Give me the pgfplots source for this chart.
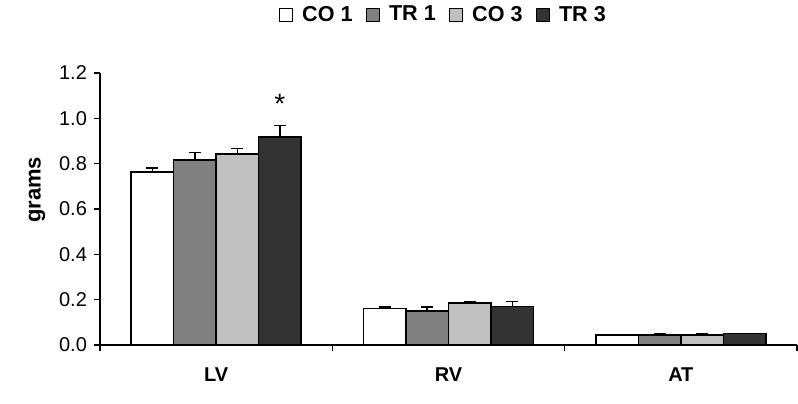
\documentclass[border=0pt]{standalone}
\usepackage{fontspec}
\setmainfont{Liberation Sans}
\usepackage{pgfplots}
\pgfplotsset{compat=1.18}
\definecolor{cTR1}{RGB}{128,128,128}
\definecolor{cCO3}{RGB}{192,192,192}
\definecolor{cTR3}{RGB}{51,51,51}
\begin{document}
\begin{tikzpicture}
\begin{axis}[
  scale only axis, width=348.5pt, height=136pt,
  ybar=0pt, bar width=0.183,
  xmin=-0.5, xmax=2.5, ymin=0, ymax=1.2,
  axis x line*=bottom, axis y line*=left,
  axis line style={line width=0.6pt, -},
  tick align=outside,
  xtick={0,1,2}, xticklabels={LV,RV,AT},
  major x tick style={draw=none},
  minor xtick={-0.5,0.5,1.5,2.5},
  minor tick length=3pt,
  major tick length=3pt,
  tick style={line width=0.6pt, black},
  xticklabel style={font=\fontsize{10}{12}\selectfont\bfseries, yshift=-5pt},
  ytick={0,0.2,0.4,0.6,0.8,1.0,1.2},
  yticklabel style={font=\fontsize{10}{12}\selectfont},
  /pgf/number format/.cd, fixed, fixed zerofill, precision=1, assume math mode=true,
  /pgfplots/.cd,
  ylabel={\bfseries grams},
  ylabel style={font=\fontsize{11}{13}\selectfont, at={(ticklabel cs:0.57)}},
  legend columns=4,
  legend style={draw=none, at={(0.494,1.213)}, anchor=center,
    font=\fontsize{10.8}{12}\selectfont\bfseries,
    /tikz/every even column/.append style={column sep=4.5pt},
    /tikz/every odd column/.append style={column sep=2.5pt},
    inner sep=0pt},
  legend image code/.code={\draw[#1, line width=0.6pt] (0pt,-3.3pt) rectangle (6.6pt,3.3pt);},
  every axis plot/.append style={draw=black, line width=0.75pt,
    error bars/y dir=plus, error bars/y explicit,
    error bars/error bar style={line width=0.75pt, black},
    error bars/error mark options={rotate=90, mark size=3pt, line width=0.75pt, black}},
  clip=false,
]
\addplot[fill=white] coordinates {(0,0.763) +- (0,0.018) (1,0.160) +- (0,0.008) (2,0.044) +- (0,0.002)};
\addplot[fill=cTR1] coordinates {(0,0.816) +- (0,0.034) (1,0.150) +- (0,0.018) (2,0.045) +- (0,0.005)};
\addplot[fill=cCO3] coordinates {(0,0.842) +- (0,0.025) (1,0.185) +- (0,0.006) (2,0.045) +- (0,0.005)};
\addplot[fill=cTR3] coordinates {(0,0.917) +- (0,0.052) (1,0.170) +- (0,0.022) (2,0.050) +- (0,0.0)};
\legend{CO 1, TR 1, CO 3, TR 3}
\node[font=\fontsize{14}{14}\selectfont] at (axis cs:0.2745,1.065) {*};
\end{axis}
\pgfresetboundingbox
\path ([xshift=-50pt,yshift=-29pt]current axis.south west) rectangle ([xshift=0.5pt,yshift=36.5pt]current axis.north east);
\end{tikzpicture}
\end{document}
